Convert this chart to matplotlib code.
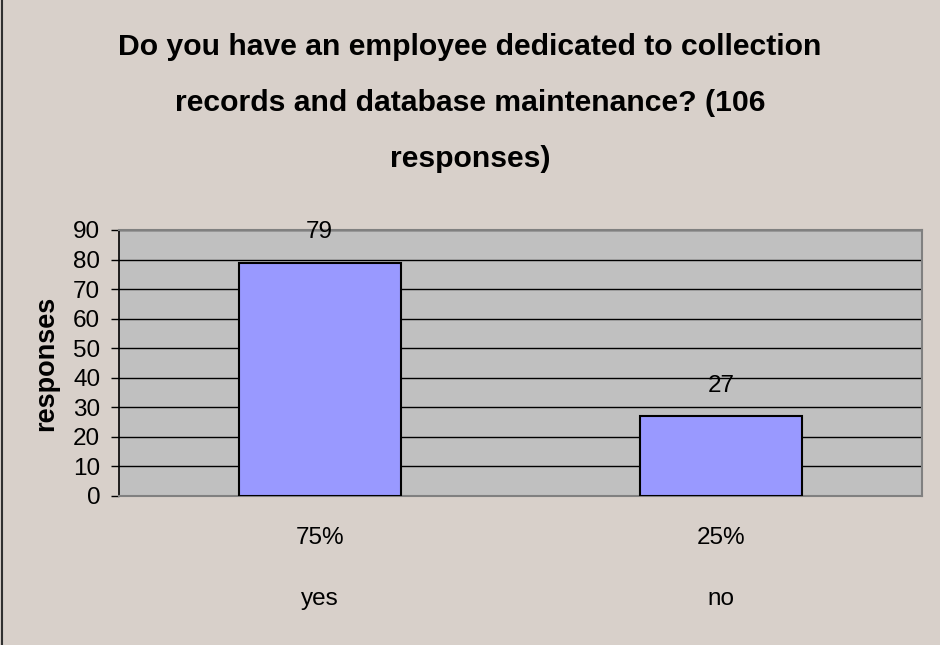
import matplotlib.pyplot as plt
from matplotlib.lines import Line2D

# survey answers
categories = ['yes', 'no']
counts = [79, 27]
total = 106
yticks = list(range(0, 100, 10))

plt.rcParams['font.family'] = ['Liberation Sans', 'DejaVu Sans']

fig = plt.figure(figsize=(9.4, 6.45), dpi=100)
fig.patch.set_facecolor('#d8d0ca')
ax = fig.add_axes([119/940, 1 - 496/645, 803/940, 266/645])
ax.set_facecolor('#c0c0c0')

x = list(range(len(categories)))
ax.bar(x, counts, width=0.403, color='#9999ff', edgecolor='black', linewidth=1.5, zorder=3)
ax.set_xlim(-0.5, len(categories) - 0.5)
ax.set_ylim(0, 90)
ax.set_yticks(yticks)
ax.tick_params(axis='y', labelsize=17.5, length=5.5, width=1, pad=8)
ax.yaxis.grid(True, color='black', linewidth=1)
ax.set_axisbelow(True)

ax.set_xticks([])
for s in ['top', 'right', 'bottom']:
    ax.spines[s].set_color('#808080')
    ax.spines[s].set_linewidth(1.5)
ax.spines['left'].set_linewidth(1.2)

# value labels above bars
for xi, v in zip(x, counts):
    ax.annotate(str(v), (xi, v), xytext=(0, 22), textcoords='offset points',
                ha='center', va='center', fontsize=17.5)

# percentage and category name under each bar
for xi, v, c in zip(x, counts, categories):
    pct = '%d%%' % round(100 * v / total)
    ax.annotate(pct, (xi, 0), xycoords=('data', 'axes fraction'), xytext=(0, -30),
                textcoords='offset points', ha='center', va='center', fontsize=17.5)
    ax.annotate(c, (xi, 0), xycoords=('data', 'axes fraction'), xytext=(0, -74),
                textcoords='offset points', ha='center', va='center', fontsize=17.5)

ax.set_ylabel('responses', fontsize=19.5, fontweight='bold', labelpad=10)

fig.text(0.5, 1 - 103/645,
         'Do you have an employee dedicated to collection\n'
         'records and database maintenance? (106\nresponses)',
         ha='center', va='center', fontsize=21.7, fontweight='bold', linespacing=2.28)

fig.add_artist(Line2D([2/940, 2/940], [0, 1], color='#303030', linewidth=1.5))

fig.savefig('out.png', dpi=100, facecolor=fig.get_facecolor())
